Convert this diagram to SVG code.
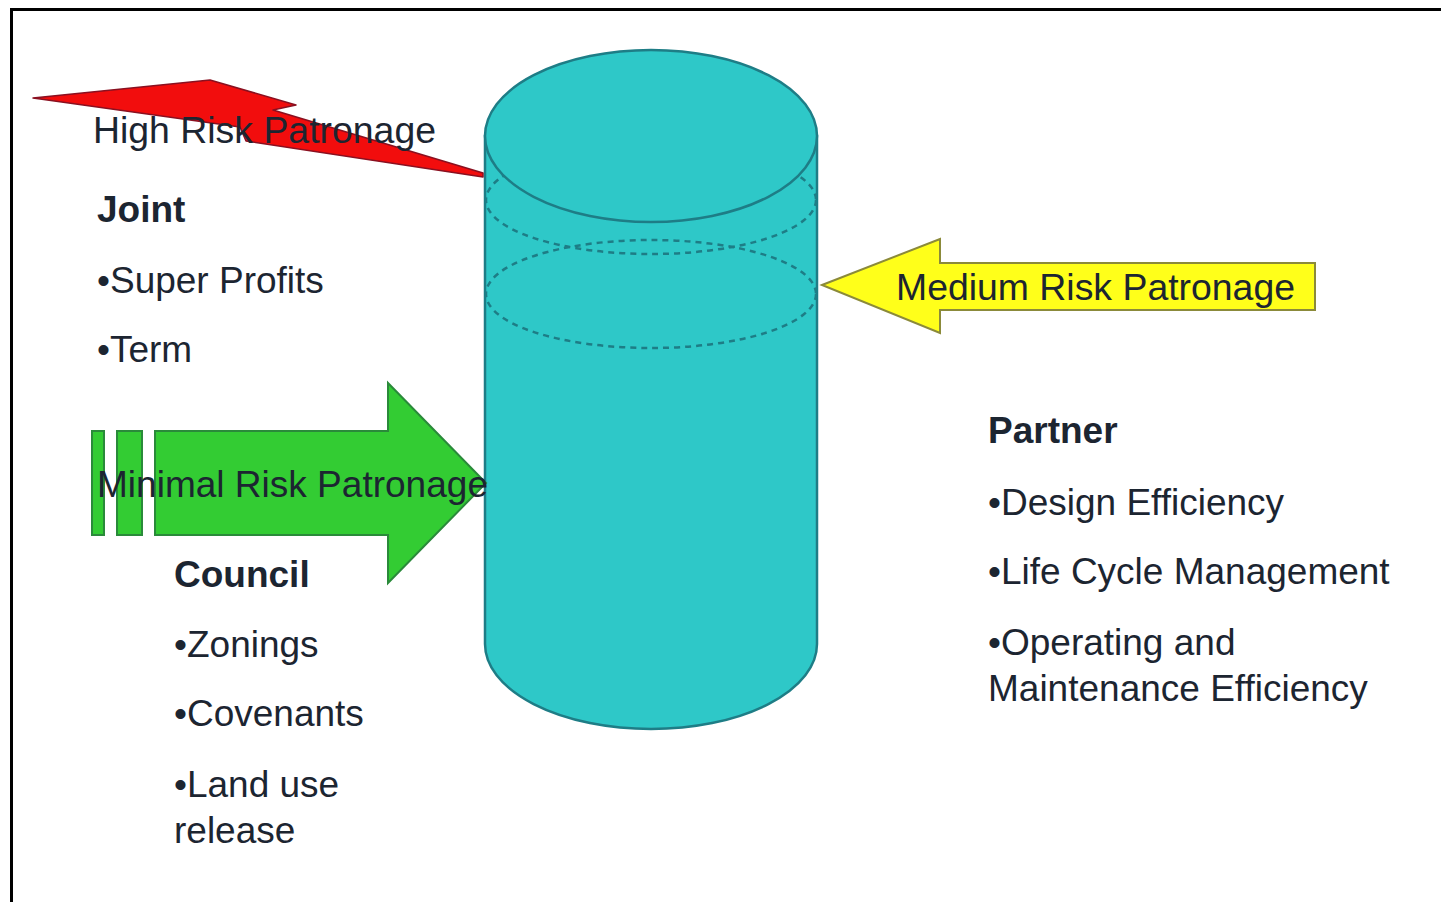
<svg xmlns="http://www.w3.org/2000/svg" width="1441" height="902" viewBox="0 0 1441 902">
<style>
.t{font-family:"Liberation Sans",Arial,sans-serif;font-size:37px;fill:#1c2531}
.b{font-weight:bold}
.cyl{fill:#2ec8c8;stroke:#1e7d86;stroke-width:2.5}
.dash{fill:none;stroke:#1e7d86;stroke-width:2.5;stroke-dasharray:6 5}
</style>
<rect x="0" y="0" width="1441" height="902" fill="#ffffff"/>
<g id="frame">
<line x1="11.5" y1="9.5" x2="1441" y2="9.5" stroke="#000" stroke-width="3"/>
<line x1="11.5" y1="8" x2="11.5" y2="902" stroke="#000" stroke-width="3"/>
</g>
<g id="cylinder">
<path class="cyl" d="M485,136 L485,644 A166,85 0 0 0 817,644 L817,136 Z"/>
<ellipse class="dash" cx="651" cy="200" rx="165" ry="54"/>
<ellipse class="dash" cx="651" cy="294" rx="165" ry="54"/>
<ellipse class="cyl" cx="651" cy="136" rx="166" ry="86"/>
</g>
<g id="connectors">
<g id="high-risk-arrow">
<polygon points="33,98 210,80 296,105 273,110 483,173 483,177 246,141 240,127" fill="#f20d0d" stroke="#8a1020" stroke-width="1.5" stroke-linejoin="round"/>
</g>
<g id="minimal-risk-arrow">
<rect x="92" y="431" width="12" height="104" fill="#33cc33" stroke="#2a8a3a" stroke-width="2"/>
<rect x="117" y="431" width="25" height="104" fill="#33cc33" stroke="#2a8a3a" stroke-width="2"/>
<polygon points="155,431 388,431 388,383 486,483 388,583 388,535 155,535" fill="#33cc33" stroke="#2a8a3a" stroke-width="2"/>
</g>
<g id="medium-risk-arrow">
<polygon points="822,285 940,239 940,263 1315,263 1315,310 940,310 940,333" fill="#ffff1a" stroke="#8b8a3a" stroke-width="2"/>
</g>
</g>
<g id="high-risk-label">
<text class="t" x="93" y="143" textLength="343" lengthAdjust="spacingAndGlyphs">High Risk Patronage</text>
</g>
<g id="joint">
<text class="t b" x="97" y="222">Joint</text>
<text class="t" x="97" y="293">•Super Profits</text>
<text class="t" x="97" y="362">•Term</text>
</g>
<g id="minimal-risk-label">
<text class="t" x="97" y="497" textLength="391" lengthAdjust="spacingAndGlyphs">Minimal Risk Patronage</text>
</g>
<g id="council">
<text class="t b" x="174" y="587">Council</text>
<text class="t" x="174" y="657">•Zonings</text>
<text class="t" x="174" y="726">•Covenants</text>
<text class="t" x="174" y="797">•Land use</text>
<text class="t" x="174" y="843">release</text>
</g>
<g id="medium-risk-label">
<text class="t" x="896" y="300" textLength="399" lengthAdjust="spacingAndGlyphs">Medium Risk Patronage</text>
</g>
<g id="partner">
<text class="t b" x="988" y="443">Partner</text>
<text class="t" x="988" y="515">•Design Efficiency</text>
<text class="t" x="988" y="584">•Life Cycle Management</text>
<text class="t" x="988" y="655">•Operating and</text>
<text class="t" x="988" y="701">Maintenance Efficiency</text>
</g>
</svg>
